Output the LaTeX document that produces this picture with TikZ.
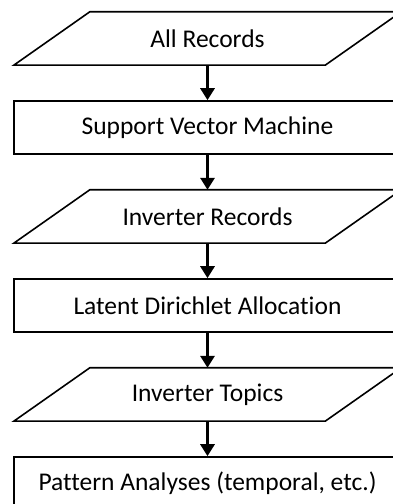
\documentclass[tikz,border=0pt]{standalone}
\usepackage{fontspec}
\setmainfont{Carlito}[Ligatures=NoCommon]
\usetikzlibrary{positioning, arrows.meta}

\begin{document}
\begin{tikzpicture}[x=1pt, y=1pt, node distance=35pt,
		% the slanted boxes get their outline drawn after the node
		data/.style={rectangle, minimum width=311pt, minimum height=53pt, inner sep=0pt,
			font=\fontsize{25.5}{28}\selectfont,
			append after command={\pgfextra{\draw[line width=1.6pt]
				([xshift=-38pt]\tikzlastnode.south west) -- ([xshift=38pt]\tikzlastnode.north west)
				-- ([xshift=38pt]\tikzlastnode.north east) -- ([xshift=-38pt]\tikzlastnode.south east) -- cycle;}}},
		process/.style={draw, line width=1.6pt, rectangle,
			minimum width=387pt, minimum height=53pt, inner sep=0pt, font=\fontsize{25.5}{28}\selectfont},
		flow/.style={line width=3pt, -{Triangle[length=12pt, width=14pt]}}]
		\useasboundingbox (0, 0) rectangle (393, 504);
		\clip (0, 0) rectangle (393, 504);
		
		% the chain, top to bottom
		\node[data] (allrec) at (207.5, 465.5) {All Records};
		\node[process, below=of allrec] (svm) {Support Vector Machine};
		\node[data, below=of svm] (invrec) {Inverter Records};
		\node[process, below=of invrec] (lda) {Latent Dirichlet Allocation};
		\node[data, below=of lda] (invtop) {Inverter Topics};
		\node[process, below=of invtop] (pattern) {Pattern Analyses (temporal, etc.)};
		
		% arrows between the steps
		\draw[flow] (allrec) -- (svm);
		\draw[flow] (svm) -- (invrec);
		\draw[flow] (invrec) -- (lda);
		\draw[flow] (lda) -- (invtop);
		\draw[flow] (invtop) -- (pattern);
	\end{tikzpicture}
\end{document}
